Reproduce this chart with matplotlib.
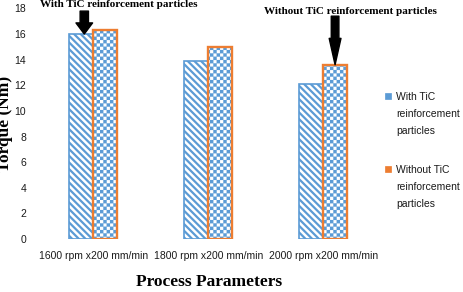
"""Torque vs process parameters, with / without TiC reinforcement"""
import numpy as np
import matplotlib
matplotlib.use('Agg')
import matplotlib.pyplot as plt
import matplotlib.hatch as mhatch
from matplotlib.path import Path
from matplotlib.patches import Rectangle

# --- data ---
categories = ["1600 rpm x200 mm/min", "1800 rpm x200 mm/min", "2000 rpm x200 mm/min"]
with_tic = [16.0, 13.9, 12.1]
without_tic = [16.3, 15.0, 13.6]
series_names = ["With TiC\nreinforcement\nparticles", "Without TiC\nreinforcement\nparticles"]
y_ticks = list(range(0, 19, 2))

BLUE = "#5B9BD5"
ORANGE = "#ED7D31"


class CheckerHatch(mhatch.HatchPatternBase):
    """'o' in a hatch string -> checkerboard of filled squares"""
    def __init__(self, hatch, density):
        self.k = hatch.count('o') * density
        if self.k % 2:
            self.k += 1
        self.num_vertices = (self.k * self.k // 2) * 5 if self.k else 0

    def set_vertices_and_codes(self, vertices, codes):
        s = 1.0 / self.k
        sq = np.array([[0, 0], [s, 0], [s, s], [0, s], [0, 0]])
        cells = [(i, j) for i in range(self.k) for j in range(self.k) if (i + j) % 2 == 0]
        vertices[:] = np.concatenate([sq + [i * s, j * s] for i, j in cells])
        c = np.full(5, Path.LINETO, dtype=Path.code_type)
        c[0] = Path.MOVETO
        c[-1] = Path.CLOSEPOLY
        codes[:] = np.tile(c, len(cells))


mhatch._hatch_types = [h for h in mhatch._hatch_types if h is not mhatch.SmallCircles] + [CheckerHatch]


def set_hatch_lw(bars, lw):
    for b in bars:
        if hasattr(b, "set_hatch_linewidth"):
            b.set_hatch_linewidth(lw)


W, H = 463, 292
fig = plt.figure(figsize=(W / 100, H / 100), dpi=100)
fig.patch.set_facecolor('white')
ax = fig.add_axes([36 / W, 1 - 239 / H, (380.5 - 36) / W, (239 - 8.4) / H])

x = np.arange(len(categories))
bw = 0.209

# blue diagonal bars
plt.rcParams['hatch.linewidth'] = 1.6
b1 = ax.bar(x - bw / 2, with_tic, bw, facecolor='white', edgecolor=BLUE,
            linewidth=1.2, hatch='\\\\\\\\\\')
set_hatch_lw(b1, 1.6)

# orange-edged checker bars: hatch layer, then outline
plt.rcParams['hatch.linewidth'] = 0.1
b2 = ax.bar(x + bw / 2, without_tic, bw, facecolor='white', edgecolor=BLUE,
            linewidth=0, hatch='ooooo')
set_hatch_lw(b2, 0.1)
ax.bar(x + bw / 2, without_tic, bw, fill=False, edgecolor=ORANGE, linewidth=1.7)

ax.set_xlim(-0.5, len(categories) - 0.5)
ax.set_ylim(0, 18)
ax.set_yticks(y_ticks)
ax.set_xticks(x)
ax.set_xticklabels(categories, fontsize=7.5, family='Liberation Sans', color='#1a1a1a')
ax.tick_params(axis='y', length=0, pad=7, labelsize=7.5, labelcolor='#1a1a1a')
ax.tick_params(axis='x', length=0, pad=8.5)
for t in ax.get_yticklabels():
    t.set_family('Liberation Sans')
for s in ax.spines.values():
    s.set_visible(False)

# axis titles (y title is clipped by the left edge, as in the source figure)
fig.text(209.5 / W, 1 - 286 / H, "Process Parameters", ha='center', va='baseline',
         family='Liberation Serif', weight='bold', fontsize=12.5)
fig.text(13 / W, 1 - 123.5 / H, "Torque (Nm)", ha='right', va='center', rotation=90,
         family='Liberation Serif', weight='bold', fontsize=12.5)

# callouts
fig.text(119 / W, 1 - 7 / H, "With TiC reinforcement particles", ha='center', va='baseline',
         family='Liberation Serif', weight='bold', fontsize=8)
fig.text(350 / W, 1 - 14 / H, "Without TiC reinforcement particles", ha='center', va='baseline',
         family='Liberation Serif', weight='bold', fontsize=8)
ax.annotate('', xy=(x[0] - bw / 2 + 0.025, with_tic[0]), xytext=(0, 16.5), textcoords='offset points',
            arrowprops=dict(arrowstyle='simple,head_length=0.8,head_width=1.2,tail_width=0.6',
                            mutation_scale=10, color='black', shrinkA=0, shrinkB=0))
ax.annotate('', xy=(x[2] + bw / 2, without_tic[2]), xytext=(0, 35), textcoords='offset points',
            arrowprops=dict(arrowstyle='simple,head_length=1.9,head_width=0.85,tail_width=0.55',
                            mutation_scale=10, color='black', shrinkA=0, shrinkB=0))

# legend (drawn by hand so the swatch sits on the first text line)
for name, col, top in zip(series_names, [BLUE, ORANGE], [92, 165]):
    fig.add_artist(Rectangle((385 / W, 1 - (top + 7) / H), 6 / W, 6 / H,
                             transform=fig.transFigure, facecolor=col, edgecolor=col, lw=0.5))
    fig.text(396 / W, 1 - top / H, name, ha='left', va='top', family='Liberation Sans',
             fontsize=7.5, linespacing=1.85, color='#1a1a1a')

fig.savefig("out.png", dpi=100, facecolor='white')
